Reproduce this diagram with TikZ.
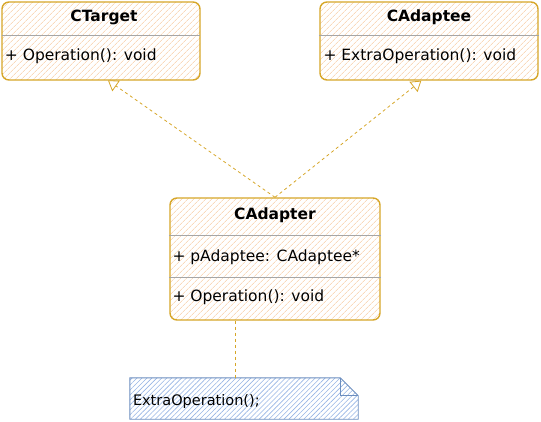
\documentclass[tikz,border=0pt]{standalone}
\usepackage{fontspec}
\setmainfont{DejaVu Sans}
\usepackage{tikz}
\usetikzlibrary{positioning,arrows.meta,calc,patterns.meta}
\definecolor{classc}{RGB}{214,166,40}
\definecolor{hatchc}{RGB}{246,196,150}
\definecolor{notec}{RGB}{108,142,191}
\definecolor{notehatch}{RGB}{150,180,228}
\tikzset{
  classbox/.style = {draw=classc, line width=1.4pt, rounded corners=7pt,
                     pattern={Lines[angle=45,distance=4pt,line width=0.6pt]}, pattern color=hatchc},
  sep/.style      = {draw=black!35, line width=0.5pt},
  title/.style    = {font=\fontsize{15.5}{18}\selectfont\bfseries, inner sep=0pt},
  member/.style   = {font=\fontsize{15.5}{18}\selectfont, anchor=west, inner sep=0pt},
  notebox/.style  = {draw=notec, line width=0.9pt,
                     pattern={Lines[angle=45,distance=3.5pt,line width=0.6pt]}, pattern color=notehatch},
  realize/.style  = {draw=classc, line width=0.8pt, dash pattern=on 3pt off 3pt,
                     -{Triangle[open,length=10pt,width=13pt,fill=white]}},
  link/.style     = {draw=classc, line width=0.8pt, dash pattern=on 3pt off 3pt},
}
\begin{document}
\begin{tikzpicture}[x=1pt,y=1pt]
\useasboundingbox (0,0) rectangle (541,421);

% classes
\node[classbox, minimum width=198pt, minimum height=78pt] (target) at (101,380) {};
\node[classbox, minimum width=218pt, minimum height=78pt] (adaptee) at (429,380) {};
\node[classbox, minimum width=210pt, minimum height=122pt] (adapter) at (275,162) {};

\draw[sep] ($(target.north west)+(0,-34)$) -- ($(target.north east)+(0,-34)$);
\draw[sep] ($(adaptee.north west)+(0,-34)$) -- ($(adaptee.north east)+(0,-34)$);
\draw[sep] ($(adapter.north west)+(0,-38)$) -- ($(adapter.north east)+(0,-38)$);
\draw[sep] ($(adapter.north west)+(0,-80)$) -- ($(adapter.north east)+(0,-80)$);

\node[title] (targetname) at ($(target.north)+(3,-16)$) {CTarget};
\node[member] (targetop) at ($(target.north west)+(3,-55)$) {+ Operation(): void};
\node[title] (adapteename) at ($(adaptee.north)+(0,-16)$) {CAdaptee};
\node[member] (adapteeop) at ($(adaptee.north west)+(4,-55)$) {+ ExtraOperation(): void};
\node[title] (adaptername) at ($(adapter.north)+(0,-18)$) {CAdapter};
\node[member] (adapterfield) at ($(adapter.north west)+(3,-60)$) {+ pAdaptee: CAdaptee*};
\node[member] (adapterop) at ($(adapter.north west)+(3,-100)$) {+ Operation(): void};

% note
\node[minimum width=228pt, minimum height=41pt, inner sep=0pt] (note) at (244,22.5) {};
\draw[notebox] (note.south west) -- (note.north west) -- ($(note.north east)+(-18,0)$)
  -- ($(note.north east)+(0,-18)$) -- (note.south east) -- cycle;
\draw[draw=notec, line width=0.9pt] ($(note.north east)+(-18,0)$) -- ($(note.north east)+(-18,-18)$)
  -- ($(note.north east)+(0,-18)$);
\node[member, font=\fontsize{14.5}{17}\selectfont] (notetext) at ($(note.west)+(3,-3)$) {ExtraOperation();};

\draw[realize] (adapter.north) -- (target.-80);
\draw[realize] (adapter.north) -- (adaptee.-101);
\coordinate (noteanchor) at ($(adapter.south)+(-40,0)$);
\draw[link] (noteanchor) -- (noteanchor |- note.north);

\end{tikzpicture}
\end{document}
